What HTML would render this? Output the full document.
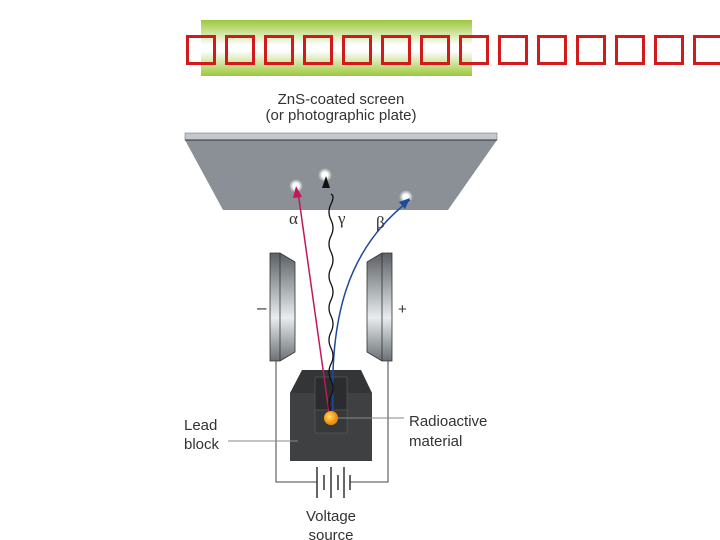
<!DOCTYPE html>
<html><head><style>
body{margin:0;width:720px;height:540px;background:#fff;overflow:hidden;position:relative;font-family:"Liberation Sans",sans-serif}
.band{position:absolute;left:201px;top:20px;width:271px;height:56px;background:linear-gradient(#9cc83a,#fff 45%,#fff 55%,#9cc83a)}
.bx{position:absolute;top:35px;width:24px;height:24px;border:3px solid #d21a1a}
</style></head><body>
<div class="band"></div>
<div class="bx" style="left:186px"></div><div class="bx" style="left:225px"></div><div class="bx" style="left:264px"></div><div class="bx" style="left:303px"></div><div class="bx" style="left:342px"></div><div class="bx" style="left:381px"></div><div class="bx" style="left:420px"></div><div class="bx" style="left:459px"></div><div class="bx" style="left:498px"></div><div class="bx" style="left:537px"></div><div class="bx" style="left:576px"></div><div class="bx" style="left:615px"></div><div class="bx" style="left:654px"></div><div class="bx" style="left:693px"></div>
<svg width="720" height="540" style="position:absolute;left:0;top:0">
<defs>
<radialGradient id="sp"><stop offset="0" stop-color="#fff"/><stop offset="0.4" stop-color="#fff"/><stop offset="1" stop-color="#fff" stop-opacity="0"/></radialGradient>
<linearGradient id="pl" x1="0" x2="0" y1="0" y2="1"><stop offset="0" stop-color="#5a6064"/><stop offset="0.6" stop-color="#e8ecee"/><stop offset="1" stop-color="#6a7074"/></linearGradient>
<radialGradient id="ball" cx="0.4" cy="0.4"><stop offset="0" stop-color="#ffe060"/><stop offset="1" stop-color="#f08a10"/></radialGradient>
</defs>
<g font-size="15" fill="#333" text-anchor="middle">
<text x="341" y="104">ZnS-coated screen</text>
<text x="341" y="120">(or photographic plate)</text>
</g>
<rect x="185" y="133" width="312" height="7" fill="#c4c8ca" stroke="#666" stroke-width="0.5"/>
<polygon points="185,140 497,140 448,210 223,210" fill="#8a9095"/>
<line x1="185" y1="140" x2="497" y2="140" stroke="#333" stroke-width="1"/>
<circle cx="296" cy="186" r="7" fill="url(#sp)"/><circle cx="325" cy="175" r="7" fill="url(#sp)"/><circle cx="406" cy="197" r="7" fill="url(#sp)"/>
<polygon points="270,253 280,253 295,262 295,352 280,361 270,361" fill="url(#pl)" stroke="#333" stroke-width="0.8"/>
<line x1="280" y1="253" x2="280" y2="361" stroke="#333" stroke-width="0.8"/>
<polygon points="392,253 382,253 367,262 367,352 382,361 392,361" fill="url(#pl)" stroke="#333" stroke-width="0.8"/>
<line x1="382" y1="253" x2="382" y2="361" stroke="#333" stroke-width="0.8"/>
<polyline points="276,361 276,482 317,482" fill="none" stroke="#444"/>
<polyline points="388,361 388,482 350,482" fill="none" stroke="#444"/>
<g stroke="#333" stroke-width="1.5"><line x1="317" y1="467" x2="317" y2="498"/><line x1="324" y1="475" x2="324" y2="490"/><line x1="331" y1="467" x2="331" y2="498"/><line x1="338" y1="475" x2="338" y2="490"/><line x1="344" y1="467" x2="344" y2="498"/><line x1="350" y1="475" x2="350" y2="490"/></g>
<polygon points="290,393 302,370 361,370 372,393" fill="#333537"/>
<rect x="290" y="393" width="82" height="68" fill="#3e4042"/>
<rect x="315" y="377" width="32" height="56" fill="#2a2c2e" stroke="#555" stroke-width="0.8"/>
<rect x="315" y="410" width="32" height="23" fill="#36383a" stroke="#555" stroke-width="0.8"/>
<path d="M329,412 L298,192" stroke="#c2185b" stroke-width="1.5" fill="none"/>
<polygon points="296,186 293,198 302,197" fill="#c2185b"/>
<path d="M333,412 C330,320 345,250 410,200" stroke="#1e4a9a" stroke-width="1.5" fill="none"/>
<polygon points="410,198 399,202 405,209" fill="#1e4a9a"/>
<path d="M331,412 q-4,-8 0,-16 q4,-8 0,-16 q-4,-8 0,-16 q4,-8 0,-16 q-4,-8 0,-16 q4,-8 0,-16 q-4,-8 0,-16 q4,-8 0,-16 q-4,-8 0,-16 q4,-8 0,-16 q-4,-8 0,-16 q4,-8 0,-16 q-4,-8 0,-16 q4,-8 0,-10" stroke="#111" stroke-width="1.3" fill="none"/>
<polygon points="326,176 322,188 330,188" fill="#111"/>
<circle cx="331" cy="418" r="7" fill="url(#ball)"/>
<line x1="338" y1="418" x2="404" y2="418" stroke="#888"/>
<line x1="228" y1="441" x2="298" y2="441" stroke="#888"/>
<g font-size="15" fill="#333">
<text x="289" y="224" font-size="17" font-family="Liberation Serif">α</text>
<text x="338" y="224" font-size="17" font-family="Liberation Serif">γ</text>
<text x="376" y="228" font-size="17" font-family="Liberation Serif">β</text>
<text x="257" y="313" font-size="17">–</text>
<text x="398" y="314">+</text>
<text x="184" y="430">Lead</text><text x="184" y="449">block</text>
<text x="409" y="426">Radioactive</text><text x="409" y="446">material</text>
<text x="331" y="521" text-anchor="middle">Voltage</text>
<text x="331" y="540" text-anchor="middle">source</text>
</g>
</svg>
</body></html>
